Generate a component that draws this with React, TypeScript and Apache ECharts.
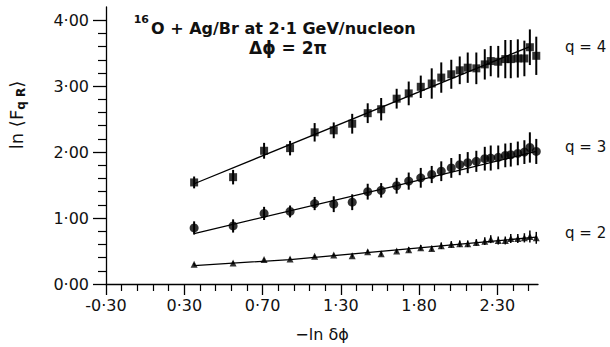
import React, { useEffect, useRef } from "react";
import * as echarts from "echarts";

// -ln δφ positions shared by the three moment orders
const xVals = [0.363, 0.612, 0.81, 0.976, 1.133, 1.255, 1.373, 1.472, 1.558, 1.657, 1.734, 1.811, 1.881, 1.942, 2.006, 2.06, 2.111, 2.166, 2.22, 2.258, 2.306, 2.351, 2.386, 2.431, 2.473, 2.508, 2.549];

// q = 4 (squares)
const q4 = [1.54, 1.62, 2.02, 2.06, 2.3, 2.33, 2.43, 2.59, 2.65, 2.81, 2.89, 2.99, 3.04, 3.13, 3.18, 3.24, 3.28, 3.27, 3.33, 3.38, 3.37, 3.41, 3.41, 3.42, 3.42, 3.59, 3.46];
const q4Err = [0.09, 0.11, 0.12, 0.11, 0.14, 0.12, 0.15, 0.15, 0.17, 0.15, 0.18, 0.17, 0.23, 0.23, 0.22, 0.21, 0.23, 0.24, 0.23, 0.23, 0.24, 0.29, 0.29, 0.29, 0.27, 0.27, 0.29];

// q = 3 (circles)
const q3 = [0.85, 0.88, 1.07, 1.1, 1.22, 1.21, 1.24, 1.4, 1.42, 1.49, 1.56, 1.61, 1.66, 1.71, 1.76, 1.81, 1.84, 1.86, 1.9, 1.91, 1.92, 1.95, 1.96, 1.98, 2.0, 2.07, 2.01];
const q3Err = [0.1, 0.1, 0.1, 0.09, 0.1, 0.12, 0.12, 0.12, 0.11, 0.12, 0.13, 0.15, 0.13, 0.15, 0.15, 0.16, 0.16, 0.16, 0.18, 0.19, 0.18, 0.18, 0.18, 0.18, 0.18, 0.23, 0.19];

// q = 2 (triangles)
const q2 = [0.3, 0.32, 0.37, 0.38, 0.42, 0.44, 0.43, 0.49, 0.46, 0.5, 0.52, 0.55, 0.54, 0.58, 0.6, 0.61, 0.61, 0.63, 0.65, 0.68, 0.66, 0.66, 0.69, 0.69, 0.7, 0.72, 0.7];
const q2Err = [0.02, 0.02, 0.02, 0.02, 0.02, 0.02, 0.03, 0.03, 0.03, 0.03, 0.04, 0.04, 0.04, 0.05, 0.05, 0.05, 0.05, 0.05, 0.06, 0.06, 0.06, 0.06, 0.07, 0.07, 0.07, 0.09, 0.09];

// fitted lines
const fitX4 = [0.363, 2.508];
const fit4 = [1.52, 3.6];
const fitX3 = [0.363, 1.657, 2.549];
const fit3 = [0.765, 1.49, 2.01];
const fitX2 = [0.363, 0.976, 2.549];
const fit2 = [0.28, 0.37, 0.71];

// axis ticks and labels (as printed on the original)
const xMajor = [-0.2, 0.3, 0.8, 1.3, 1.8, 2.3];
const xLabels = ["-0·30", "0·30", "0·70", "1·30", "1·80", "2·30"];
const xMinor = [-0.1, 0, 0.1, 0.2, 0.4, 0.5, 0.6, 0.7, 0.9, 1.0, 1.1, 1.2, 1.4, 1.5, 1.6, 1.7, 1.9, 2.0, 2.1, 2.2, 2.4, 2.5];
const yMajor = [0, 1, 2, 3, 4];
const yLabels = ["0·00", "1·00", "2·00", "3·00", "4·00"];
const yMinor = [0.2, 0.4, 0.6, 0.8, 1.2, 1.4, 1.6, 1.8, 2.2, 2.4, 2.6, 2.8, 3.2, 3.4, 3.6, 3.8];

const qLabels = ["q = 4", "q = 3", "q = 2"];

const FONT = "DejaVu Sans";

function lookup(ticks: number[], labels: string[], v: number) {
  const i = ticks.findIndex((m) => Math.abs(m - v) < 1e-6);
  return i >= 0 ? labels[i] : "";
}

export default function App() {
  const ref = useRef<HTMLDivElement>(null);
  useEffect(() => {
    if (!ref.current) return;
    const chart = echarts.init(ref.current, undefined, { renderer: "svg" });
    const xMin = -0.2;
    const xMax = 2.56;
    const yMin = 0;
    const yMax = 4.2;

    const errData = (ys: number[], es: number[]) =>
      xVals.map((x, i) => [x, ys[i] - es[i], ys[i] + es[i]]);
    const pts = (ys: number[]) => xVals.map((x, i) => [x, ys[i]]);
    const line = (xs: number[], ys: number[]) => xs.map((x, i) => [x, ys[i]]);

    const errSeries = (ys: number[], es: number[], w: number) => ({
      type: "custom",
      clip: false,
      z: 3,
      data: errData(ys, es),
      encode: { x: 0, y: [1, 2] },
      renderItem: (params: any, api: any) => {
        const x = api.value(0);
        const p1 = api.coord([x, api.value(1)]);
        const p2 = api.coord([x, api.value(2)]);
        return {
          type: "line",
          shape: { x1: p1[0], y1: p1[1], x2: p2[0], y2: p2[1] },
          style: { stroke: "#000", lineWidth: w },
        };
      },
    });

    const fitSeries = (xs: number[], ys: number[]) => ({
      type: "line",
      data: line(xs, ys),
      showSymbol: false,
      symbol: "none",
      z: 2,
      lineStyle: { color: "#000", width: 1.3 },
    });

    const txt = { fontFamily: FONT, color: "#111" };

    chart.setOption({
      animation: false,
      backgroundColor: "#fff",
      grid: { left: 106, right: 72, top: 7, bottom: 61, containLabel: false },
      xAxis: [
        {
          type: "value",
          min: xMin,
          max: xMax,
          position: "bottom",
          axisLine: { show: true, onZero: false, lineStyle: { color: "#000", width: 1.3 } },
          axisTick: { show: true, inside: false, length: 11, customValues: xMajor, lineStyle: { color: "#000", width: 1.3 } },
          axisLabel: {
            show: true,
            customValues: xMajor,
            margin: 13,
            fontSize: 16,
            ...txt,
            formatter: (v: number) => lookup(xMajor, xLabels, v),
          },
          splitLine: { show: false },
          name: "−ln δϕ",
          nameLocation: "middle",
          nameGap: 42,
          nameTextStyle: { fontSize: 16, ...txt },
        },
        {
          type: "value",
          min: xMin,
          max: xMax,
          position: "bottom",
          axisLine: { show: false, onZero: false },
          axisTick: { show: true, inside: false, length: 7, customValues: xMinor, lineStyle: { color: "#000", width: 1.2 } },
          axisLabel: { show: false },
          splitLine: { show: false },
        },
      ],
      yAxis: [
        {
          type: "value",
          min: yMin,
          max: yMax,
          position: "left",
          axisLine: { show: true, onZero: false, lineStyle: { color: "#000", width: 1.3 } },
          axisTick: { show: true, inside: false, length: 13, customValues: yMajor, lineStyle: { color: "#000", width: 1.3 } },
          axisLabel: {
            show: true,
            customValues: yMajor,
            margin: 17,
            fontSize: 16,
            ...txt,
            formatter: (v: number) => lookup(yMajor, yLabels, v),
          },
          splitLine: { show: false },
        },
        {
          type: "value",
          min: yMin,
          max: yMax,
          position: "left",
          axisLine: { show: false, onZero: false },
          axisTick: { show: true, inside: false, length: 8, customValues: yMinor, lineStyle: { color: "#000", width: 1.2 } },
          axisLabel: { show: false },
          splitLine: { show: false },
        },
      ],
      series: [
        fitSeries(fitX4, fit4),
        fitSeries(fitX3, fit3),
        fitSeries(fitX2, fit2),
        errSeries(q4, q4Err, 2),
        errSeries(q3, q3Err, 2),
        errSeries(q2, q2Err, 1.5),
        { type: "scatter", data: pts(q4), symbol: "rect", symbolSize: 8, z: 4, itemStyle: { color: "#000" } },
        { type: "scatter", data: pts(q3), symbol: "circle", symbolSize: 9, z: 4, itemStyle: { color: "#000" } },
        { type: "scatter", data: pts(q2), symbol: "triangle", symbolSize: 7, z: 4, itemStyle: { color: "#000" } },
      ],
      graphic: [
        {
          type: "text",
          x: 149,
          y: 19,
          style: { text: "16", fontSize: 11, fontWeight: "bold", fontFamily: FONT, fill: "#111", align: "right", verticalAlign: "middle" },
        },
        {
          type: "text",
          x: 151,
          y: 28,
          style: { text: "O + Ag/Br at 2·1 GeV/nucleon", fontSize: 16, fontWeight: "bold", fontFamily: FONT, fill: "#111", verticalAlign: "middle" },
        },
        {
          type: "text",
          x: 288,
          y: 48,
          style: { text: "Δϕ = 2π", fontSize: 17, fontWeight: "bold", fontFamily: FONT, fill: "#111", align: "center", verticalAlign: "middle" },
        },
        {
          type: "text",
          x: 565,
          y: 47,
          style: { text: qLabels[0], fontSize: 15, fontFamily: FONT, fill: "#111", verticalAlign: "middle" },
        },
        {
          type: "text",
          x: 565,
          y: 147,
          style: { text: qLabels[1], fontSize: 15, fontFamily: FONT, fill: "#111", verticalAlign: "middle" },
        },
        {
          type: "text",
          x: 565,
          y: 233,
          style: { text: qLabels[2], fontSize: 15, fontFamily: FONT, fill: "#111", verticalAlign: "middle" },
        },
        {
          type: "text",
          x: 16,
          y: 115,
          rotation: Math.PI / 2,
          style: {
            text: "{a|ln ⟨F}{s|q R}{a|⟩}",
            align: "center",
            verticalAlign: "middle",
            rich: {
              a: { fontSize: 18, fontFamily: FONT, fill: "#111", color: "#111" },
              s: { fontSize: 12, fontFamily: FONT, fill: "#111", color: "#111", fontWeight: "bold", padding: [9, 0, 0, 0] },
            },
          },
        },
      ],
    });
    return () => chart.dispose();
  }, []);
  return (
    <div
      ref={ref}
      style={{ position: "fixed", left: 0, top: 0, width: 610, height: 347, background: "#fff" }}
    />
  );
}
